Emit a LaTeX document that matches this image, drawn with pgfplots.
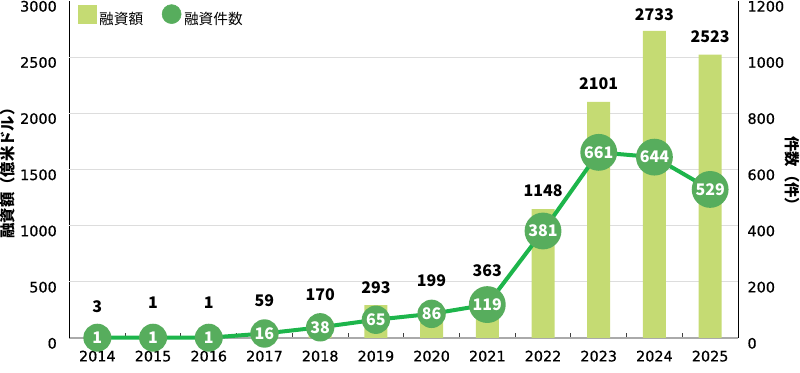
\documentclass[border=0pt]{standalone}
\usepackage{fontspec}
\setmainfont{Noto Sans CJK JP}
\newfontfamily\tickfont[FakeBold=0.6]{DejaVu Sans}
\usepackage{pgfplots}
\pgfplotsset{compat=1.18}
\definecolor{barc}{HTML}{C5DB73}
\definecolor{circc}{HTML}{57AD5D}
\definecolor{linec}{HTML}{1DB54B}
\definecolor{gridc}{HTML}{DDDDDD}
\definecolor{basec}{HTML}{AAAAAA}
\begin{document}
\begin{tikzpicture}
\path[use as bounding box] (-52.125pt,-26.25pt) rectangle (547.875pt,253.5pt);
\begin{axis}[
  at={(0,0)}, anchor=south west, scale only axis,
  width=501.375pt, height=252.75pt,
  xmin=-0.5, xmax=11.5, ymin=0, ymax=3000,
  clip=false,
  axis lines=left, axis line style={-},
  x axis line style={draw=basec, line width=1pt},
  y axis line style={draw=black, line width=0.75pt},
  xtick={0,...,11},
  xticklabels={2014,2015,2016,2017,2018,2019,2020,2021,2022,2023,2024,2025},
  minor xtick={0.5,1.5,...,10.5},
  major tick length=0pt, minor tick length=4pt, tick align=inside,
  minor tick style={draw=black!75, line width=0.75pt},
  ytick={0,500,...,3000},
  extra y ticks={500,1000,1500,2000,2500},
  extra y tick labels={},
  extra y tick style={grid=major},
  major grid style={draw=gridc, line width=0.75pt},
  /pgf/number format/assume math mode=true,
  /pgf/number format/1000 sep={},
  xticklabel style={font=\tickfont\fontsize{10.8}{12}\selectfont, yshift=-6pt},
  yticklabel style={font=\tickfont\fontsize{10.8}{12}\selectfont, xshift=-6pt, yshift=-4pt},
  ylabel={融資額（億米ドル）},
  every axis y label/.style={at={(axis description cs:-0.092,0.5)}, anchor=center, rotate=90, font=\bfseries\fontsize{11.5}{13}\selectfont},
  legend style={at={(axis description cs:0.012,0.99)}, anchor=north west, draw=none, fill=none,
    inner sep=0pt, outer sep=0pt, font=\fontsize{11}{12}\selectfont,
    /tikz/every even column/.append style={column sep=12pt}},
  legend columns=2,
  legend cell align=left,
]
\addplot[ybar, bar width=17.25pt, bar shift=0pt, fill=barc, draw=none,
  legend image code/.code={\fill[barc] (0pt,-3.1pt) rectangle (14.25pt,11.15pt);}]
  table {
x y
0 3
1 1
2 1
3 59
4 170
5 293
6 199
7 363
8 1148
9 2101
10 2733
11 2523
};
\addlegendentry{融資額}
\addplot[forget plot, draw=none, mark=none, nodes near coords, point meta=explicit symbolic,
  nodes near coords style={anchor=center, text=black, font=\bfseries\fontsize{12}{14}\selectfont}]
  table[meta=lab] {
x y lab
0 278 3
1 311 1
2 311 1
3 332 59
4 382 170
5 445 293
6 507 199
7 599 363
8 1310 1148
9 2268 2101
10 2879 2733
11 2686 2523
};
\addlegendimage{legend image code/.code={\fill[circc] (7.125pt,4pt) circle (7.125pt);}}
\addlegendentry{融資件数}
\end{axis}
\begin{axis}[
  at={(0,0)}, anchor=south west, scale only axis,
  width=501.375pt, height=252.75pt,
  xmin=-0.5, xmax=11.5, ymin=0, ymax=1200,
  clip=false,
  axis y line*=right, axis x line=none,
  axis line style={-, draw=black, line width=0.75pt},
  ytick={0,200,...,1200},
  major tick length=0pt,
  /pgf/number format/assume math mode=true,
  /pgf/number format/1000 sep={},
  yticklabel style={font=\tickfont\fontsize{10.8}{12}\selectfont, xshift=3.6pt, yshift=-4pt},
  ylabel={件数（件）},
  every axis y label/.style={at={(axis description cs:1.0818,0.4837)}, anchor=center, rotate=-90, font=\bfseries\fontsize{11.5}{13}\selectfont},
]
\addplot[linec, line width=3pt, mark=none, nodes near coords, point meta=explicit symbolic,
  nodes near coords style={circle, fill=circc, text=white, inner sep=1.5pt, minimum size=21pt,
    anchor=center, font=\bfseries\fontsize{12}{14}\selectfont}]
  table[meta=lab] {
x y lab
0 1 1
1 1 1
2 1 1
3 16 16
4 38 38
5 65 65
6 86 86
7 119 119
8 381 381
9 661 661
10 644 644
11 529 529
};
\end{axis}
\end{tikzpicture}
\end{document}
